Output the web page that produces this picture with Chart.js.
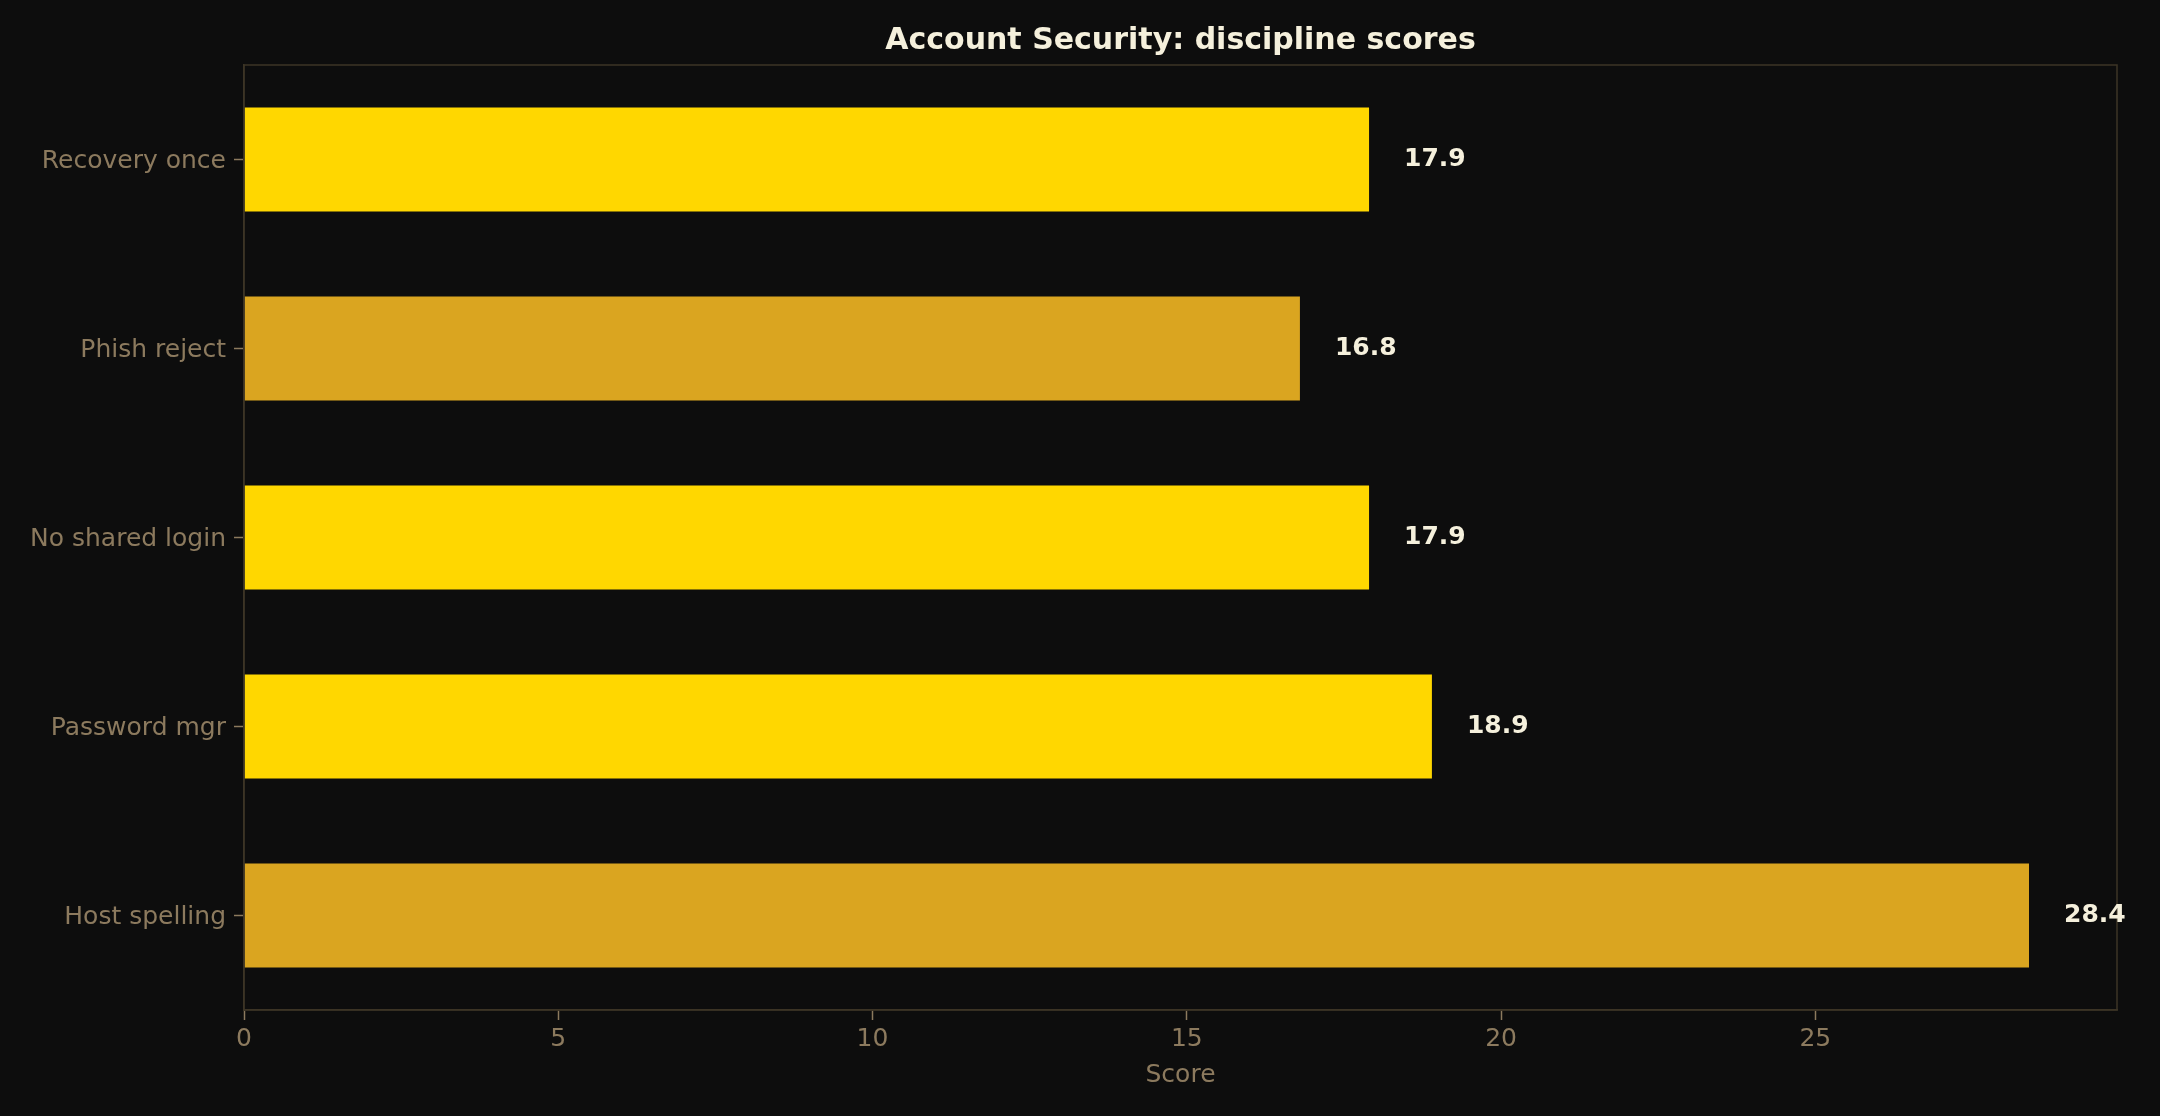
<!DOCTYPE html>
<html>
<head>
<meta charset="utf-8">
<script src="https://cdn.jsdelivr.net/npm/chart.js@4"></script>
<style>
  html, body { margin: 0; padding: 0; background: #0d0d0d; }
  #wrap { width: 2160px; height: 1116px; }
</style>
</head>
<body>
<div id="wrap"><canvas id="bar-chart" width="2160" height="1116"></canvas></div>
<script>
var categories = ["Recovery once", "Phish reject", "No shared login", "Password mgr", "Host spelling"];
var scores = [17.9, 16.8, 17.9, 18.9, 28.4];
var xTicks = [0, 5, 10, 15, 20, 25];
var chartTitle = "Account Security: discipline scores";

var textColor = "#8c7a5e";
var spineColor = "#3d3526";
var hiMax = Math.max.apply(null, scores);
var hiMin = Math.min.apply(null, scores);
var barColors = scores.map(function (v) {
    return (v === hiMax || v === hiMin) ? "#daa520" : "#ffd700";
});

// background, box round the plot, title over the plot and the value labels
var framePlugin = {
    id: 'frame',
    beforeDraw: function (chart) {
        var c = chart.ctx;
        c.save();
        c.fillStyle = "#0d0d0d";
        c.fillRect(0, 0, chart.width, chart.height);
        c.restore();
    },
    afterDraw: function (chart) {
        var c = chart.ctx, a = chart.chartArea;
        c.save();
        c.strokeStyle = spineColor;
        c.lineWidth = 1.5;
        c.strokeRect(a.left, a.top, a.right - a.left, a.bottom - a.top);

        c.fillStyle = "#f5f0dc";
        c.font = "bold 30px 'DejaVu Sans'";
        c.textAlign = "center";
        c.textBaseline = "middle";
        c.fillText(chartTitle, (a.left + a.right) / 2, 41.5);

        var meta = chart.getDatasetMeta(0);
        var xs = chart.scales.x;
        c.font = "bold 25px 'DejaVu Sans'";
        c.textAlign = "left";
        meta.data.forEach(function (bar, i) {
            c.fillText(scores[i].toFixed(1), xs.getPixelForValue(scores[i]) + 35, bar.y);
        });
        c.restore();
    }
};

var ctx = document.getElementById('bar-chart');
var chart = new Chart(ctx, {
    type: 'bar',
    data: {
        labels: categories,
        datasets: [{
            data: scores,
            backgroundColor: barColors,
            borderWidth: 0,
            barPercentage: 0.55,
            categoryPercentage: 1.0
        }]
    },
    options: {
        indexAxis: 'y',
        responsive: false,
        animation: false,
        devicePixelRatio: 1,
        layout: { padding: { left: 0, right: 43, top: 65, bottom: 0 } },
        plugins: {
            legend: { display: false },
            tooltip: { enabled: false },
            title: { display: false }
        },
        scales: {
            x: {
                min: 0,
                max: 29.8,
                afterBuildTicks: function (scale) {
                    scale.ticks = xTicks.map(function (v) { return { value: v }; });
                },
                afterFit: function (scale) { scale.height = 106; },
                grid: { drawOnChartArea: false, drawTicks: true, tickLength: 10, tickColor: textColor, tickWidth: 1.5 },
                border: { display: true, color: spineColor, width: 1.5 },
                ticks: { color: textColor, font: { family: "DejaVu Sans", size: 25 }, padding: 4, maxRotation: 0 },
                title: {
                    display: true,
                    text: "Score",
                    color: textColor,
                    font: { family: "DejaVu Sans", size: 25, lineHeight: 1.2 },
                    padding: { top: 4, bottom: 26 }
                }
            },
            y: {
                afterFit: function (scale) { scale.width = 244; },
                grid: { offset: false, drawOnChartArea: false, drawTicks: true, tickLength: 10, tickColor: textColor, tickWidth: 1.5 },
                border: { display: true, color: spineColor, width: 1.5 },
                ticks: { color: textColor, font: { family: "DejaVu Sans", size: 25 }, padding: 8, labelOffset: 2 }
            }
        }
    },
    plugins: [framePlugin]
});
</script>
</body>
</html>
